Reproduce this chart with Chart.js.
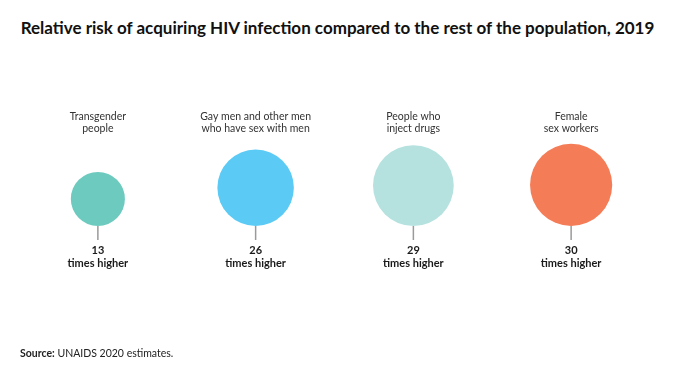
<!DOCTYPE html>
<html>
<head>
<meta charset="utf-8">
<script src="https://cdn.jsdelivr.net/npm/chart.js@4"></script>
<style>
  html, body { margin: 0; padding: 0; background: #fff; }
  #wrap { position: relative; width: 675px; height: 375px; overflow: hidden; font-family: Lato, "Noto Sans", sans-serif; }
  #title { position: absolute; left: 0; width: 675px; top: 17px; text-align: center; font-weight: 700; font-size: 17px; color: #111; white-space: nowrap; }
  #source { position: absolute; left: 20px; top: 347px; font-size: 10.5px; color: #222; white-space: nowrap; }
  #source b { font-weight: 700; }
  canvas { position: absolute; left: 0; top: 0; }
</style>
</head>
<body>
<div id="wrap">
  <div id="title">Relative risk of acquiring HIV infection compared to the rest of the population, 2019</div>
  <canvas id="c" width="675" height="375"></canvas>
  <div id="source"><b>Source:</b> UNAIDS 2020 estimates.</div>
</div>
<script>
const categories = [
  ["Transgender", "people"],
  ["Gay men and other men", "who have sex with men"],
  ["People who", "inject drugs"],
  ["Female", "sex workers"]
];
const values = [13, 26, 29, 30];
const valueSuffix = "times higher";
const colors = ["#6DCABF", "#5BCBF5", "#B5E2DF", "#F47C56"];

// bubble area proportional to the value
const radiusPerSqrt = 7.5;
const radii = values.map(v => radiusPerSqrt * Math.sqrt(v));

const labelPlugin = {
  id: 'labelPlugin',
  afterDatasetsDraw(chart) {
    const ctx = chart.ctx;
    const meta = chart.getDatasetMeta(0);
    const base = chart.scales.y.getPixelForValue(0);
    ctx.save();
    meta.data.forEach((el, i) => {
      const x = el.x;
      ctx.strokeStyle = '#9a9a9a';
      ctx.lineWidth = 1.5;
      ctx.beginPath();
      ctx.moveTo(x, base);
      ctx.lineTo(x, base + 14);
      ctx.stroke();
      ctx.fillStyle = '#1a1a1a';
      ctx.textAlign = 'center';
      ctx.textBaseline = 'middle';
      ctx.font = '700 11px Lato, "Noto Sans", sans-serif';
      ctx.fillText(String(values[i]), x, base + 24);
      ctx.fillText(valueSuffix, x, base + 37);
      ctx.fillStyle = '#333';
      ctx.font = '400 10.5px Lato, "Noto Sans", sans-serif';
      categories[i].forEach((line, j) => {
        ctx.fillText(line, x, 117 + j * 12);
      });
    });
    ctx.restore();
  }
};

new Chart(document.getElementById('c'), {
  type: 'bubble',
  data: {
    datasets: [{
      data: values.map((v, i) => ({ x: i, y: radii[i], r: radii[i] })),
      backgroundColor: colors,
      borderColor: colors,
      borderWidth: 0,
      hoverRadius: 0
    }]
  },
  options: {
    responsive: false,
    animation: false,
    layout: { autoPadding: false, padding: { left: 19, right: 25, top: 66, bottom: 149 } },
    plugins: { legend: { display: false }, tooltip: { enabled: false }, title: { display: false } },
    scales: {
      x: { type: 'linear', min: -0.5, max: 3.5, display: false },
      y: { type: 'linear', min: 0, max: 160, display: false }
    },
    clip: false
  },
  plugins: [labelPlugin]
});
</script>
</body>
</html>
